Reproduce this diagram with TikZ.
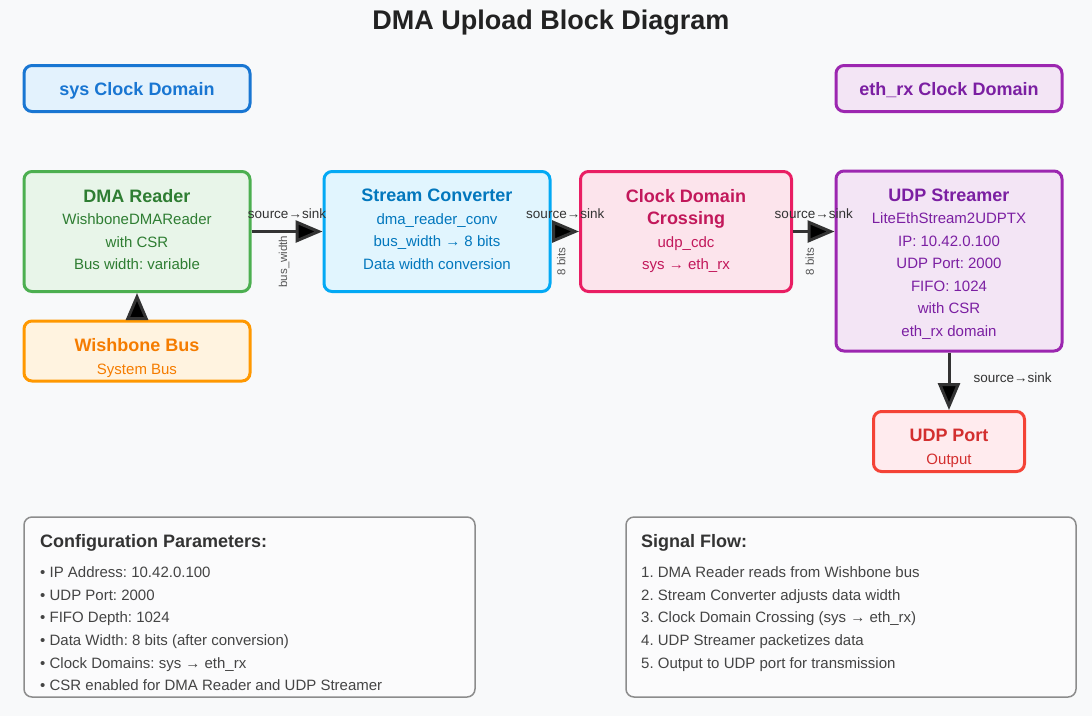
\documentclass[tikz,border=0pt]{standalone}
\usepackage{fontspec}
\setmainfont{Liberation Sans}
\usepackage{tikz}
\usetikzlibrary{positioning, calc, arrows.meta}
\frenchspacing

\definecolor{bgc}{HTML}{F8F9FA}
\definecolor{ink}{HTML}{333333}
\definecolor{headc}{HTML}{222222}
\definecolor{notec}{HTML}{444444}
\definecolor{lblc}{HTML}{555555}
\definecolor{sysD}{HTML}{1976D2}\definecolor{sysF}{HTML}{E3F2FD}
\definecolor{ethD}{HTML}{9C27B0}\definecolor{ethF}{HTML}{F3E5F5}\definecolor{ethT}{HTML}{7B1FA2}
\definecolor{dmaD}{HTML}{4CAF50}\definecolor{dmaF}{HTML}{E8F5E9}\definecolor{dmaT}{HTML}{2E7D32}
\definecolor{convD}{HTML}{03A9F4}\definecolor{convF}{HTML}{E1F5FE}\definecolor{convT}{HTML}{0277BD}
\definecolor{cdcD}{HTML}{E91E63}\definecolor{cdcF}{HTML}{FCE4EC}\definecolor{cdcT}{HTML}{C2185B}
\definecolor{wbD}{HTML}{FF9800}\definecolor{wbF}{HTML}{FFF3E0}\definecolor{wbT}{HTML}{F57C00}
\definecolor{portD}{HTML}{F44336}\definecolor{portF}{HTML}{FFEBEE}\definecolor{portT}{HTML}{D32F2F}

\newcommand{\blocktitle}[1]{{\fontsize{18}{22.5}\selectfont\bfseries #1}}

\begin{document}
\begin{tikzpicture}[x=1pt, y=-1pt,
    block/.style 2 args={draw=#1, fill=#2, line width=3pt, rounded corners=8pt,
        minimum width=226pt, minimum height=120pt, inner sep=0pt},
    domain/.style 2 args={block={#1}{#2}, minimum height=46pt, text=#1,
        font=\fontsize{18}{22}\selectfont\bfseries, text height=14.5pt, text depth=0pt},
    blocktxt/.style={text=#1, align=center, inner sep=0pt,
        font=\fontsize{15}{22.5}\selectfont},
    notebox/.style={draw=gray!90, fill=bgc!60!white, line width=1.5pt, rounded corners=8pt,
        minimum width=451pt, minimum height=180pt, inner sep=0pt},
    notetxt/.style={text=notec, align=left, inner sep=0pt, anchor=north west,
        font=\fontsize{15}{22.6}\selectfont},
    flow/.style={draw=ink, line width=3pt, -{Triangle[length=27pt, width=22pt]}},
    toplbl/.style={text=ink, inner sep=0pt, anchor=base, yshift=13.5pt,
        font=\fontsize{13.5}{15}\selectfont},
    widthlbl/.style={text=lblc, inner sep=0pt, anchor=base, rotate=90,
        font=\fontsize{11.5}{13}\selectfont}]

    \useasboundingbox[fill=bgc] (0,0) rectangle (1092,716);

    \node[text=headc, anchor=base, font=\fontsize{27}{32}\selectfont\bfseries] (title) at (551,29) {DMA Upload Block Diagram};

    % clock domains
    \node[domain={sysD}{sysF}] (sysdom) at (137,88.5) {sys Clock Domain};
    \node[domain={ethD}{ethF}, text=ethT] (ethdom) at (949,88.5) {eth\_rx Clock Domain};

    % blocks
    \node[block={dmaD}{dmaF}] (dma) at (137,231.5) {};
    \node[block={convD}{convF}, right=71pt of dma] (conv) {};
    \node[block={cdcD}{cdcF}, minimum width=211pt, right=27.5pt of conv] (cdc) {};
    \node[block={ethD}{ethF}, minimum height=180pt] (udp) at (949,261) {};
    \node[block={wbD}{wbF}, minimum height=60pt, below=26.5pt of dma] (wb) {};
    \node[block={portD}{portF}, minimum width=151pt, minimum height=60pt, below=57.5pt of udp] (port) {};
    \coordinate (udpIn) at (cdc.east -| udp.west);

    \node[blocktxt=dmaT, below=19pt of dma.north] (dmaTxt) {\blocktitle{DMA Reader}\\WishboneDMAReader\\with CSR\\Bus width: variable};
    \node[blocktxt=convT, below=19pt of conv.north] (convTxt) {\blocktitle{Stream Converter}\\dma\_reader\_conv\\bus\_width → 8 bits\\Data width conversion};
    \node[blocktxt=cdcT, below=19pt of cdc.north] (cdcTxt) {\blocktitle{Clock Domain}\\\blocktitle{Crossing}\\udp\_cdc\\sys → eth\_rx};
    \node[blocktxt=ethT, below=19pt of udp.north] (udpTxt) {\blocktitle{UDP Streamer}\\LiteEthStream2UDPTX\\IP: 10.42.0.100\\UDP Port: 2000\\FIFO: 1024\\with CSR\\eth\_rx domain};
    \node[blocktxt=wbT, below=19pt of wb.north] (wbTxt) {\blocktitle{Wishbone Bus}\\System Bus};
    \node[blocktxt=portT, below=19pt of port.north] (portTxt) {\blocktitle{UDP Port}\\Output};

    % connectors
    \path[flow]
        (wb) edge (dma)
        (dma) edge node[toplbl] {source→sink} (conv)
        (conv) edge node[toplbl] {source→sink} (cdc)
        (cdc) edge node[toplbl] {source→sink} (udpIn)
        (udp) edge node[toplbl, anchor=base west, yshift=-14.5pt, xshift=23pt] {source→sink} (port);

    \node[widthlbl] (w1) at ($(dma.east)!.5!(conv.west)+(0,30)$) {bus\_width};
    \node[widthlbl] (w2) at ($(conv.east)!.5!(cdc.west)+(0,30)$) {8 bits};
    \node[widthlbl] (w3) at ($(cdc.east)!.5!(udpIn)+(0,30)$) {8 bits};

    % notes
    \node[notebox] (cfg) at (249.5,607) {};
    \node[notebox, minimum width=450pt] (sig) at (851,607) {};

    \node[notetxt] (cfgTxt) at (40,534.4) {{\fontsize{18}{22.6}\selectfont\bfseries\color{ink}Configuration Parameters:}\\[7.4pt]
        • IP Address: 10.42.0.100\\• UDP Port: 2000\\• FIFO Depth: 1024\\• Data Width: 8 bits (after conversion)\\• Clock Domains: sys → eth\_rx\\• CSR enabled for DMA Reader and UDP Streamer};
    \node[notetxt] (sigTxt) at (641,534.4) {{\fontsize{18}{22.6}\selectfont\bfseries\color{ink}Signal Flow:}\\[7.4pt]
        1. DMA Reader reads from Wishbone bus\\2. Stream Converter adjusts data width\\3. Clock Domain Crossing (sys → eth\_rx)\\4. UDP Streamer packetizes data\\5. Output to UDP port for transmission};
\end{tikzpicture}
\end{document}
